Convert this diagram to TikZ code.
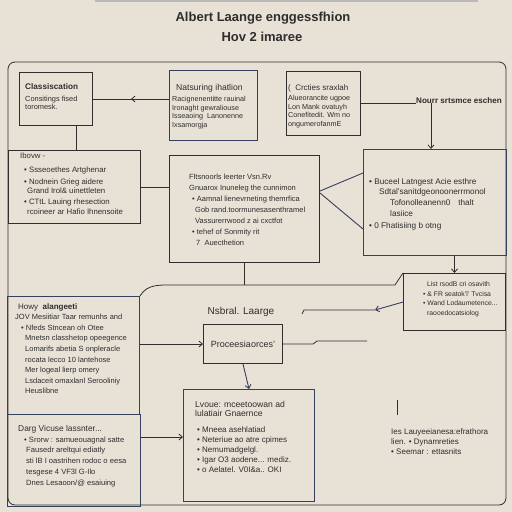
\documentclass[tikz,border=0pt]{standalone}
\usepackage{fontspec}
\setmainfont{Liberation Sans}
\usetikzlibrary{arrows.meta,calc,decorations.markings}
\definecolor{bg}{HTML}{E8E1D6}
\definecolor{ink}{HTML}{2E2E2E}
\definecolor{navy}{HTML}{35405C}
\tikzset{
  box/.style={draw=ink, line width=1pt, anchor=north west, inner sep=0pt},
  nbox/.style={box, draw=navy},
  txt/.style={anchor=north west, align=left, text=ink, inner sep=0pt, font=\fontsize{6.8}{10.6}\selectfont},
  stxt/.style={txt, font=\fontsize{7.2}{8.6}\selectfont},
  htxt/.style={txt, font=\fontsize{8.2}{9}\selectfont\bfseries},
  conn/.style={draw=ink, line width=0.8pt},
  nconn/.style={draw=navy, line width=0.9pt},
  arr/.style={conn, -{Straight Barb[length=3.5pt,width=6pt]}},
  narr/.style={nconn, -{Straight Barb[length=3.5pt,width=6pt]}},
  midarr/.style={postaction=decorate, decoration={markings, mark=at position 0.5 with {\arrow{Straight Barb[length=3.5pt,width=6pt]}}}},
}
\begin{document}
\begin{tikzpicture}[x=1pt,y=-1pt]
\fill[bg] (0,0) rectangle (512,512);
\useasboundingbox (0,0) rectangle (512,512);
\fill[gray!55] (95,0) rectangle (478,1.5);

% title
\node[font=\fontsize{13}{14}\selectfont\bfseries, text=ink] (title) at (263,18) {Albert Laange enggessfhion};
\node[font=\fontsize{13}{14}\selectfont\bfseries, text=ink] (subtitle) at (262,37) {Hov 2 imaree};

% outer frame
\draw[conn, rounded corners=7pt] (8,62) rectangle (506,505);

% boxes
\node[box, minimum width=73pt, minimum height=53pt] (cls) at (19,72) {};
\node[nbox, minimum width=88pt, minimum height=70pt] (nat) at (169,70) {};
\node[box, minimum width=74pt, minimum height=64pt] (crc) at (286,71) {};
\node[box, minimum width=132pt, minimum height=73pt] (ibo) at (8,150) {};
\node[box, minimum width=150pt, minimum height=107pt] (cen) at (169,155) {};
\node[nbox, minimum width=143pt, minimum height=106pt] (rgt) at (363,149) {};
\node[box, minimum width=102pt, minimum height=57pt] (lst) at (403,273) {};
\node[nbox, minimum width=132pt, minimum height=118pt] (how) at (7,296) {};
\node[box, minimum width=79pt, minimum height=39pt] (pro) at (203,324) {};
\node[nbox, minimum width=133pt, minimum height=92pt] (drg) at (7,414) {};
\node[nbox, minimum width=131pt, minimum height=112pt] (bot) at (183,389) {};

% texts
\node[htxt] (clsh) at (25,83.5) {Classiscation};
\node[stxt, font=\fontsize{7.4}{8.4}\selectfont] (clsb) at (25,96) {Consitings fised\\toromesk.};

\node[txt, font=\fontsize{8.6}{9}\selectfont] (nath) at (176,84.5) {Natsuring ihatlion};
\node[stxt] (natb) at (172,96) {Racignenentitte rauinal\\Ironaght gewraliouse\\Isseaoing\ \ Lanonenne\\Ixsamorgja};

\node[txt, font=\fontsize{8}{9}\selectfont] (crch) at (288,84) {(\ \ Crcties sraxlah};
\node[stxt] (crcb) at (288,95) {Alueorancite ugpoe\\Lon Mank ovatuyh\\Conefitedit. Wm no\\ongumerofanmE};

\node[txt, font=\fontsize{8.1}{9}\selectfont\bfseries] (lbl) at (416,97) {Nourr srtsmce eschen};

\node[txt, font=\fontsize{7.8}{10}\selectfont] (ibot) at (20,153) {Ibovw -\\[4pt]
 \hspace*{4pt}• Ssseoethes Artghenar\\[2pt]
 \hspace*{4pt}• Nodnein Grieg aidere\\[-1pt]
 \hspace*{7pt}Grand Irol\& uinettleten\\[1pt]
 \hspace*{4pt}• CTtL Lauing rhesection\\[0pt]
 \hspace*{7pt}rcoineer ar Hafio Ihnensoite};

\node[txt, font=\fontsize{7.5}{11}\selectfont] (cent) at (189,174) {Fltsnoorls leerter Vsn.Rv\\
 Gnuarox Inuneleg the cunnimon\\
 \hspace*{3pt}• Aamnal lienevrneting themrfica\\
 \hspace*{6pt}Gob rand.toormunesasenthramel\\
 \hspace*{6pt}Vassurerrwood z ai cxctfot\\
 \hspace*{3pt}• tehef of Sonmity rit\\
 \hspace*{7pt}7\ \ Auecthetion};

\node[txt, font=\fontsize{8.2}{10.8}\selectfont] (rgtt) at (369,178) {• Buceel Latngest Acie esthre\\
 \hspace*{10pt}Sdtal'sanitdgeonoonerrmonol\\
 \hspace*{21pt}Tofonolleanenn0\hspace{8pt}thalt\\
 \hspace*{21pt}lasiice\\[1.5pt]
 • 0 Fhatisiing b otng};

\node[txt, font=\fontsize{6.8}{9.6}\selectfont] (lstt) at (423,281.5) {\hspace*{4pt}List rsodB cri osavith\\
 • \& FR seatok'l' Tvcisa\\
 • Wand Lodaumetence...\\
 \hspace*{4pt}raooedocatsiolog};

\node[txt, font=\fontsize{7.5}{10.6}\selectfont] (howt) at (15,303) {\hspace*{3pt}{\fontsize{8}{9}\selectfont Howy\ \ \bfseries alangeeti}\\
 JOV Mesiitiar Taar remunhs and\\
 \hspace*{6pt}• Nfeds Stncean oh Otee\\
 \hspace*{10pt}Mnetsn classhetop opeegence\\
 \hspace*{10pt}Lomarifs abetia S onpleracle\\
 \hspace*{10pt}rocata lecco 10 lantehose\\
 \hspace*{10pt}Mer logeal lierp omery\\
 \hspace*{10pt}Lsdaceit omaxlanl Serooliniy\\
 \hspace*{10pt}Heuslibne};

\node[txt, font=\fontsize{7.6}{10.8}\selectfont] (drgt) at (18,425) {{\fontsize{8.4}{9}\selectfont Darg Vicuse lassnter...}\\
 \hspace*{6pt}• Srorw : samueouagnal satte\\
 \hspace*{8pt}Fausedr areltqui ediatly\\
 \hspace*{8pt}sti lB I oastrihen rodoc o eesa\\
 \hspace*{8pt}tesgese 4 VF3l G-Ilo\\
 \hspace*{8pt}Dnes Lesaoon/@ esaiuing};

\node[txt, font=\fontsize{8.6}{9.4}\selectfont] (both) at (195,401) {Lvoue: mceetoowan ad\\lulatiair Gnaernce};
\node[txt, font=\fontsize{8}{10.1}\selectfont] (botb) at (197,426) {• Mneea asehlatiad\\
 • Neteriue ao atre cpimes\\
 • Nemumadgelgl.\\
 • Igar O3 aodene... mediz.\\
 • o Aelatel. V0I\&a.. OKI};

\node[txt, font=\fontsize{8}{10}\selectfont] (brt) at (391,428) {Ies Lauyeeianesa:efrathora\\
 lien. • Dynamreties\\
 • Seemar : ettasnits};

\node[font=\fontsize{10}{11}\selectfont, text=ink] (nsb) at (241,312) {Nsbral. Laarge};
\node[font=\fontsize{9}{10}\selectfont, text=ink] (prot) at (243,344) {Proceesiaorces'};

% connectors
\draw[conn, midarr] (nat.west |- cls.east) -- (cls.east);
\draw[conn] (crc.east) -- (crc.east -| lbl.west);
\draw[arr] ([xshift=-28pt]lbl.south) -- ([xshift=-28pt]lbl.south |- rgt.north);
\draw[conn] ([xshift=20pt]cls.south) -- ([xshift=20pt]cls.south |- ibo.north);
\draw[conn] (ibo.east) -- (ibo.east -| cen.west);
\draw[nconn] ($(cen.north east)+(0,36)$) -- ($(rgt.north west)+(0,24)$);
\draw[nconn] ($(cen.north east)+(0,38)$) -- ($(rgt.north west)+(0,80)$);
\draw[conn] (cen.south) -- ($(cen.south)+(0,22)$) coordinate (hj);
\draw[conn] (how.north east) to[out=60,in=180] (hj -| 175,0) -- (hj -| 395,0) -- (lst.north west);
\draw[arr] (rgt.south -| lst.north) -- (lst.north);
\draw[arr] (how.east |- pro.west) -- (pro.west);
\draw[narr] (pro.south) -- (bot.north);
\draw[conn] (pro.east) -- ++(30,0) -- ++(4,-3) -- ++(50,0);
\draw[narr] (lst.west) -- ($(lst.west)+(-28,8)$) coordinate (lj);
\draw[conn] (lj) -- (lj -| 304,0) -- ++(-2,4);
\draw[arr] ($(drg.north east)+(0,23)$) coordinate (dq) -- (dq -| bot.west);
\draw[conn] ($(brt.north west)+(6,-28)$) -- ($(brt.north west)+(6,-13)$);
\end{tikzpicture}
\end{document}
